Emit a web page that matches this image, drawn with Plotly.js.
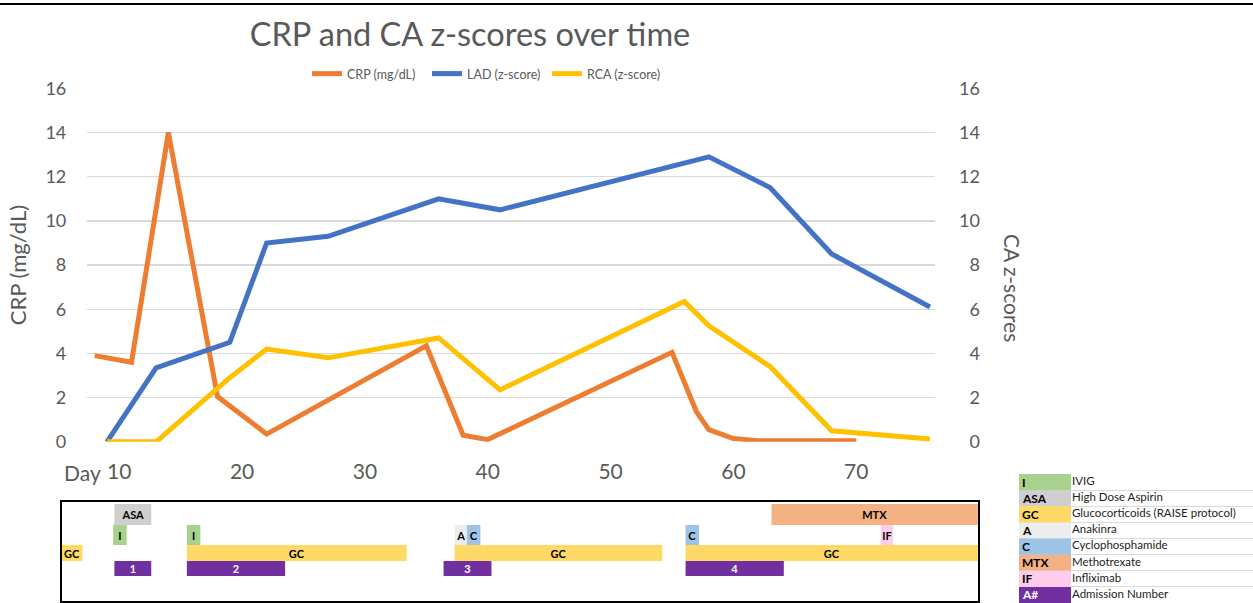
<!DOCTYPE html>
<html><head><meta charset="utf-8">
<script src="https://cdn.plot.ly/plotly-3.0.1.min.js"></script>
<style>html,body{margin:0;padding:0;background:#fff;} #chart{width:1253px;height:603px;}</style>
</head><body><div id="chart"></div>
<script>
// ---------- data ----------
const crpDay = [8, 11, 14, 18, 22, 35, 38, 40, 55, 57, 58, 60, 62, 70];
const crpVal = [3.9, 3.6, 14.0, 2.05, 0.35, 4.35, 0.3, 0.1, 4.05, 1.35, 0.55, 0.15, 0.05, 0.05];

const caDay  = [9, 13, 19, 22, 27, 36, 41, 56, 58, 63, 68, 76];
const ladVal = [0, 3.35, 4.5, 9.0, 9.3, 11.0, 10.5, 12.6, 12.9, 11.5, 8.5, 6.1];
const rcaVal = [0, 0, 2.9, 4.2, 3.8, 4.7, 2.35, 6.35, 5.25, 3.4, 0.5, 0.13];

const xTickVals  = [10, 20, 30, 40, 50, 60, 70];
const xTickText  = ['10', '20', '30', '40', '50', '60', '70'];
const yTickVals  = [0, 2, 4, 6, 8, 10, 12, 14, 16];

// treatments (start / end as day positions on the time line)
const txCode  = ['GC', 'ASA', 'I', 'I', 'GC', 'A', 'C', 'GC', 'C', 'GC', 'MTX', 'IF'];
const txStart = [5.3, 9.6, 9.5, 15.5, 15.5, 37.3, 38.3, 37.3, 56.1, 56.1, 63.1, 72.0];
const txEnd   = [7.0, 12.6, 10.6, 16.6, 33.4, 38.3, 39.4, 54.2, 57.2, 79.9, 79.9, 73.0];

// admissions
const admNum   = ['1', '2', '3', '4'];
const admStart = [9.6, 15.5, 36.4, 56.1];
const admEnd   = [12.6, 23.5, 40.3, 64.1];

// key table
const keyCode = ['I', 'ASA', 'GC', 'A', 'C', 'MTX', 'IF', 'A#'];
const keyName = ['IVIG', 'High Dose Aspirin', 'Glucocorticoids (RAISE protocol)', 'Anakinra',
                 'Cyclophosphamide', 'Methotrexate', 'Infliximab', 'Admission Number'];

// ---------- styles ----------
const W = 1253, H = 603;
const px = v => v / W;
const py = v => 1 - v / H;
const FONT = 'Lato, "Open Sans", sans-serif';
const GRAY = '#595959';
const GRID = '#D9D9D9';
const TX_COLOR = {I: '#A9D18E', ASA: '#D0CECE', GC: '#FFD966', A: '#EDEDED', C: '#9DC3E6',
                  MTX: '#F4B183', IF: '#FFCCEB', 'A#': '#7030A0'};
// rows of the treatment strip (in px from the top of the box): [centre, height]
const ROW = {ASA: [12.5, 21], MTX: [12.5, 21], I: [33, 20], A: [33, 20], C: [33, 20], IF: [33, 20],
             GC: [51, 16], 'A#': [66.5, 15]};
const KEY_W = 234, SWATCH_W = 52;

const traces = [
  {type: 'scatter', mode: 'lines', x: crpDay, y: crpVal, name: 'CRP (mg/dL)',
   line: {color: '#ED7D31', width: 5}, xaxis: 'x', yaxis: 'y'},
  {type: 'scatter', mode: 'lines', x: caDay, y: ladVal, name: 'LAD (z-score)',
   line: {color: '#4472C4', width: 5}, xaxis: 'x', yaxis: 'y2'},
  {type: 'scatter', mode: 'lines', x: caDay, y: rcaVal, name: 'RCA (z-score)',
   line: {color: '#FFC000', width: 5}, xaxis: 'x', yaxis: 'y2'}
];

function stripTrace(codes, starts, ends, labels, code, textColor) {
  const idx = codes.map((c, i) => c === code ? i : -1).filter(i => i >= 0);
  return {
    type: 'bar', orientation: 'h', xaxis: 'x2', yaxis: 'y3',
    base: idx.map(i => starts[i]),
    x: idx.map(i => ends[i] - starts[i]),
    y: idx.map(() => ROW[code][0]),
    width: idx.map(() => ROW[code][1]),
    text: idx.map(i => labels[i]),
    textposition: 'inside', insidetextanchor: 'middle', constraintext: 'none', textangle: 0,
    textfont: {family: FONT, size: 11, color: textColor, weight: 'bold'},
    marker: {color: TX_COLOR[code], line: {width: 0}},
    showlegend: false, hoverinfo: 'skip'
  };
}
['GC', 'ASA', 'I', 'A', 'C', 'MTX', 'IF'].forEach(c => traces.push(stripTrace(txCode, txStart, txEnd, txCode, c, '#000')));
traces.push(stripTrace(admNum.map(() => 'A#'), admStart, admEnd, admNum, 'A#', '#fff'));

// key: colour swatches with codes
traces.push({
  type: 'bar', orientation: 'h', xaxis: 'x3', yaxis: 'y4',
  base: keyCode.map(() => 0), x: keyCode.map(() => SWATCH_W),
  y: keyCode.map((_, i) => i + 0.5), width: keyCode.map(() => 1),
  text: keyCode, textposition: 'inside', insidetextanchor: 'start', constraintext: 'none', textangle: 0,
  textfont: {family: FONT, size: 12, weight: 'bold', color: keyCode.map(c => c === 'A#' ? '#fff' : '#000')},
  marker: {color: keyCode.map(c => TX_COLOR[c]), line: {width: 0}},
  showlegend: false, hoverinfo: 'skip'
});
// key: descriptions
traces.push({
  type: 'scatter', mode: 'text', xaxis: 'x3', yaxis: 'y4',
  x: keyName.map(() => SWATCH_W + 1), y: keyName.map((_, i) => i + 0.5),
  text: keyName, textposition: 'middle right', cliponaxis: false,
  textfont: {family: FONT, size: 11.5, color: '#222'},
  showlegend: false, hoverinfo: 'skip'
});

const rightText = yTickVals.map(v => (v < 10 ? '\u2007' : '') + v);

const layout = {
  width: W, height: H, autosize: false,
  margin: {l: 0, r: 0, t: 0, b: 0},
  paper_bgcolor: '#fff', plot_bgcolor: 'rgba(0,0,0,0)',
  font: {family: FONT, color: GRAY},
  barmode: 'overlay',
  title: {text: 'CRP and CA z-scores over time', x: px(470), xanchor: 'center', xref: 'paper',
          y: py(35), yanchor: 'middle', yref: 'paper', font: {size: 32.5, color: GRAY}},
  showlegend: true,
  legend: {orientation: 'h', x: px(307), y: py(74), xanchor: 'left', yanchor: 'middle',
           entrywidth: 75, entrywidthmode: 'pixels', itemwidth: 30,
           font: {size: 12.5, color: GRAY}, bgcolor: 'rgba(0,0,0,0)'},
  xaxis: {domain: [px(87.3), px(935)], range: [7.40, 76.41], anchor: 'y',
          tickmode: 'array', tickvals: xTickVals, ticktext: xTickText,
          showgrid: false, zeroline: false, showline: false, ticks: '',
          tickfont: {size: 21, color: GRAY}, ticklabelstandoff: 15, automargin: false, fixedrange: true},
  yaxis: {domain: [py(441.8), py(88.3)], range: [0, 16], anchor: 'x',
          tickmode: 'array', tickvals: yTickVals,
          showgrid: true, gridcolor: GRID, gridwidth: 1.3, zeroline: false, showline: false, ticks: '',
          tickfont: {size: 18, color: GRAY}, ticklabelstandoff: 20, automargin: false, fixedrange: true,
          title: {text: 'CRP (mg/dL)', font: {size: 22, color: GRAY}, standoff: 12}},
  yaxis2: {overlaying: 'y', side: 'right', anchor: 'x', range: [0, 16],
           tickmode: 'array', tickvals: yTickVals, ticktext: rightText,
           showgrid: false, zeroline: false, showline: false, ticks: '',
           tickfont: {size: 18, color: GRAY}, ticklabelstandoff: 23, automargin: false, fixedrange: true},
  xaxis2: {domain: [px(62), px(978)], range: [5.335, 79.91], anchor: 'y3',
           showticklabels: false, showgrid: false, zeroline: false, ticks: '',
           showline: true, mirror: true, linecolor: '#000', linewidth: 2, fixedrange: true},
  yaxis3: {domain: [py(601), py(502)], range: [99, 0], anchor: 'x2',
           showticklabels: false, showgrid: false, zeroline: false, ticks: '',
           showline: true, mirror: true, linecolor: '#000', linewidth: 2, fixedrange: true},
  xaxis3: {domain: [px(1019), 1], range: [0, KEY_W], anchor: 'y4',
           showticklabels: false, showgrid: false, zeroline: false, ticks: '', showline: false, fixedrange: true},
  yaxis4: {domain: [0, py(474)], range: [keyCode.length, 0], anchor: 'x3',
           tickmode: 'array', tickvals: keyCode.map((_, i) => i).concat([keyCode.length]),
           showticklabels: false, showgrid: true, gridcolor: GRID, gridwidth: 1,
           zeroline: false, ticks: '', showline: false, fixedrange: true},
  annotations: [
    {text: 'Day', xref: 'paper', yref: 'paper', x: px(103), y: py(472), xanchor: 'right', yanchor: 'middle',
     showarrow: false, font: {size: 21, color: GRAY}},
    {text: 'CA z-scores', xref: 'paper', yref: 'paper', x: px(1013), y: py(288), textangle: 90,
     xanchor: 'center', yanchor: 'middle', showarrow: false, font: {size: 21, color: GRAY}}
  ],
  shapes: [
    {type: 'line', xref: 'paper', yref: 'paper', x0: 0, x1: 1, y0: py(4), y1: py(4),
     line: {color: '#000', width: 2}}
  ]
};

Plotly.newPlot('chart', traces, layout, {staticPlot: true, displayModeBar: false});
</script>
</body></html>
